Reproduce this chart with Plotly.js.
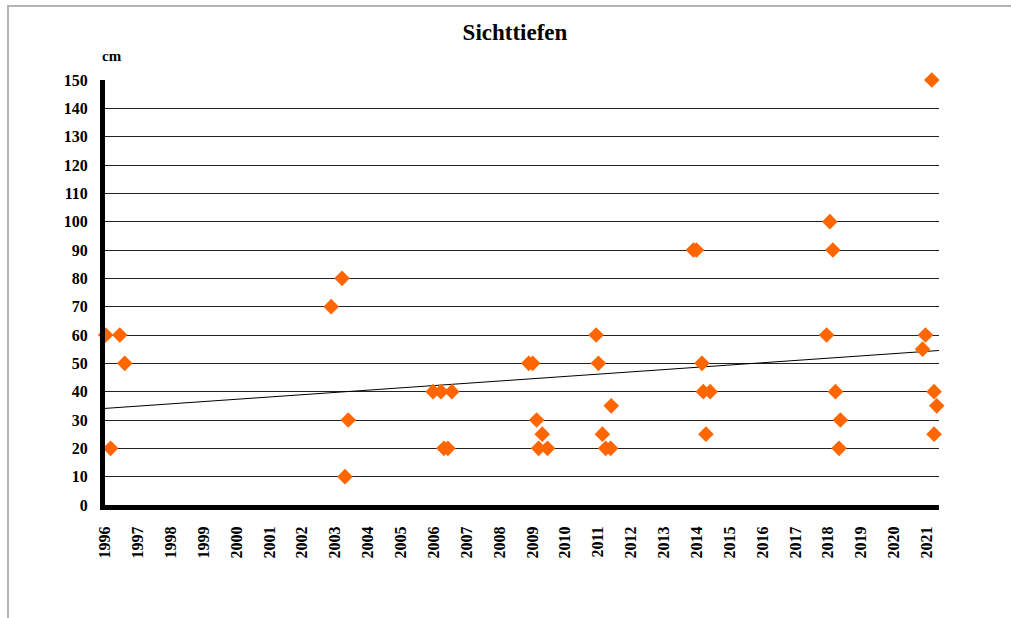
<!DOCTYPE html>
<html>
<head>
<meta charset="utf-8">
<script src="https://cdn.plot.ly/plotly-3.0.1.min.js"></script>
<style>
  html, body { margin: 0; padding: 0; background: #fff; }
  #wrap { position: relative; width: 1011px; height: 618px; overflow: hidden; }
  #chart { position: absolute; left: 0; top: 0; width: 1011px; height: 618px; }
  #frame { position: absolute; left: 7px; top: 5px; width: 1100px; height: 700px;
           border-left: 2px solid #b4b4b4; border-top: 2px solid #b4b4b4; pointer-events: none; }
</style>
</head>
<body>
<div id="wrap">
  <div id="chart"></div>
  <div id="frame"></div>
</div>
<script>
// Sampling dates (decimal years) and Secchi depth values (cm)
const dates = [
  1996.02, 1996.17, 1996.45, 1996.60,
  2002.88, 2003.21, 2003.30, 2003.40,
  2005.98, 2006.22, 2006.55, 2006.31, 2006.43,
  2008.89, 2009.01, 2009.13, 2009.30, 2009.19, 2009.46,
  2010.94, 2011.01, 2011.40, 2011.13, 2011.23, 2011.38,
  2013.90, 2013.99, 2014.16, 2014.20, 2014.41, 2014.28,
  2018.05, 2018.14, 2017.95, 2018.22, 2018.37, 2018.33,
  2021.15, 2020.96, 2020.87, 2021.22, 2021.30, 2021.22
];
const depths = [
  60, 20, 60, 50,
  70, 80, 10, 30,
  40, 40, 40, 20, 20,
  50, 50, 30, 25, 20, 20,
  60, 50, 35, 25, 20, 20,
  90, 90, 50, 40, 40, 25,
  100, 90, 60, 40, 30, 20,
  150, 60, 55, 40, 35, 25
];
const yearTicks = [];
for (let y = 1996; y <= 2021; y++) yearTicks.push(y);
const yTicks = [0,10,20,30,40,50,60,70,80,90,100,110,120,130,140,150];
const xRange = [1996, 2021.37];

// linear trend (least squares) computed from the data
const n = dates.length;
const mx = dates.reduce((a,b)=>a+b,0)/n;
const my = depths.reduce((a,b)=>a+b,0)/n;
let sxy = 0, sxx = 0;
for (let i = 0; i < n; i++) { sxy += (dates[i]-mx)*(depths[i]-my); sxx += (dates[i]-mx)*(dates[i]-mx); }
const slope = sxy/sxx, icpt = my - slope*mx;
const trendX = xRange;
const trendY = trendX.map(x => icpt + slope*x);

const serif = 'Liberation Serif, Times New Roman, serif';

const traces = [
  { x: trendX, y: trendY, mode: 'lines', line: {color: '#000', width: 1}, hoverinfo: 'skip', showlegend: false },
  { x: dates, y: depths, mode: 'markers', cliponaxis: false,
    marker: {symbol: 'diamond', size: 12, color: '#FF6600'}, showlegend: false }
];

const layout = {
  width: 1011, height: 618,
  margin: {l: 105, r: 72, t: 80, b: 113},
  paper_bgcolor: '#fff', plot_bgcolor: '#fff',
  title: {text: '<b>Sichttiefen</b>', font: {family: serif, size: 23, color: '#000'},
          x: 515/1011, xref: 'container', xanchor: 'center', y: 1 - 32/618, yref: 'container', yanchor: 'middle'},
  xaxis: {range: xRange, tickvals: yearTicks, ticktext: yearTicks.map(String), tickangle: -90,
          showgrid: false, zeroline: false, showline: true, linecolor: '#000', linewidth: 5,
          ticks: '', ticklabelstandoff: 10,
          tickfont: {family: serif, size: 16, color: '#000', weight: 'bold'}},
  yaxis: {range: [0, 150], tickvals: yTicks, ticktext: yTicks.map(String),
          showgrid: true, gridcolor: '#222', gridwidth: 1, zeroline: false,
          showline: true, linecolor: '#000', linewidth: 5, ticks: '', ticklabelstandoff: 9,
          tickfont: {family: serif, size: 16, color: '#000', weight: 'bold'}},
  shapes: [
    {type: 'line', xref: 'paper', yref: 'y', x0: 0, x1: 1, y0: 150, y1: 150, layer: 'between',
     line: {color: '#fff', width: 3}}
  ],
  annotations: [
    {text: '<b>cm</b>', xref: 'paper', yref: 'paper', x: 0.008, y: 1 + 24/425, xanchor: 'center', yanchor: 'middle',
     showarrow: false, font: {family: serif, size: 15, color: '#000'}}
  ]
};

Plotly.newPlot('chart', traces, layout, {displayModeBar: false, staticPlot: true});
</script>
</body>
</html>
